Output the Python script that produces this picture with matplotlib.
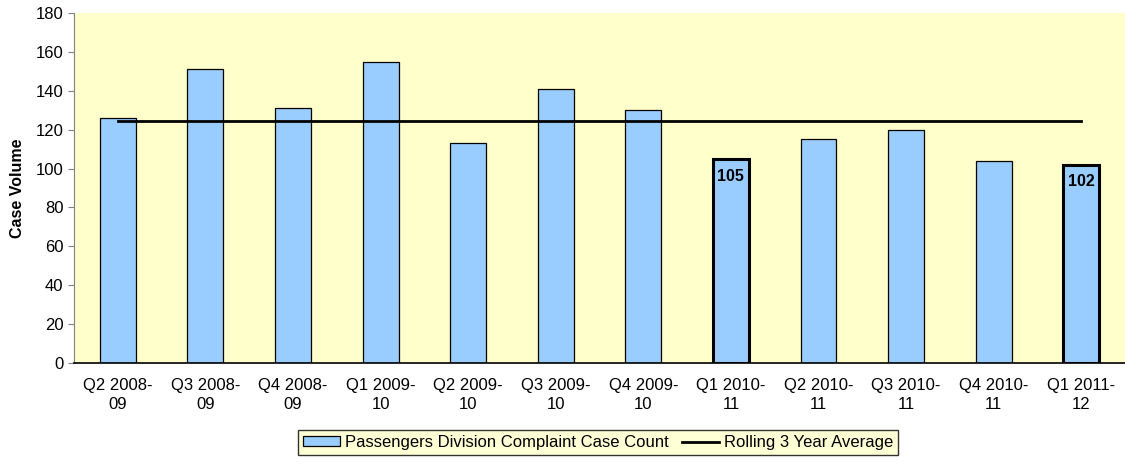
import numpy as np
import matplotlib.pyplot as plt
from matplotlib.lines import Line2D
from matplotlib.patches import Patch

quarters = ["Q2 2008-\n09", "Q3 2008-\n09", "Q4 2008-\n09", "Q1 2009-\n10",
            "Q2 2009-\n10", "Q3 2009-\n10", "Q4 2009-\n10", "Q1 2010-\n11",
            "Q2 2010-\n11", "Q3 2010-\n11", "Q4 2010-\n11", "Q1 2011-\n12"]
case_count = [126, 151, 131, 155, 113, 141, 130, 105, 115, 120, 104, 102]
rolling_avg = [124.5] * 12
highlight = [7, 11]

plt.rcParams['font.family'] = ['Liberation Sans', 'DejaVu Sans']

fig = plt.figure(figsize=(11.25, 4.68), dpi=100)
ax = fig.add_axes([0.0658, 0.2244, 0.9342, 0.7478])
ax.set_facecolor('#ffffcc')

x = np.arange(len(quarters))
bars = ax.bar(x, case_count, width=0.41, color='#99ccff', edgecolor='black', linewidth=0.9, zorder=2)
for i in highlight:
    bars[i].set_linewidth(2.2)
    ax.text(x[i], case_count[i] - 5, str(case_count[i]), ha='center', va='top',
            fontsize=11.5, fontweight='bold', zorder=4)

ax.plot(x, rolling_avg, color='black', linewidth=2, zorder=3)

ax.set_xlim(-0.5, len(quarters) - 0.5)
ax.set_ylim(0, 180)
ax.set_yticks(range(0, 181, 20))
ax.set_xticks(x)
ax.set_xticklabels(quarters, fontsize=12, linespacing=1.35)
ax.tick_params(axis='x', length=0, pad=11)
ax.tick_params(axis='y', labelsize=12, direction='out', length=4, color='#808080')
ax.set_ylabel('Case Volume', fontsize=11.5, fontweight='bold', labelpad=8)

for side in ['top', 'right']:
    ax.spines[side].set_visible(False)
ax.spines['left'].set_color('#808080')
ax.spines['bottom'].set_color('black')
ax.spines['bottom'].set_linewidth(1.2)

handles = [Patch(facecolor='#99ccff', edgecolor='black', linewidth=0.9),
           Line2D([0], [0], color='black', linewidth=2)]
labels = ['Passengers Division Complaint Case Count', 'Rolling 3 Year Average']
leg = fig.legend(handles, labels, loc='center', bbox_to_anchor=(0.5315, 0.0545), ncol=2,
                 fontsize=12, frameon=True, fancybox=False, handlelength=2.2,
                 handleheight=0.55, columnspacing=0.8, handletextpad=0.3,
                 borderpad=0.3)
leg.get_frame().set_facecolor('#ffffcc')
leg.get_frame().set_edgecolor('black')
leg.get_frame().set_linewidth(1)

fig.savefig('out.png', dpi=100)
